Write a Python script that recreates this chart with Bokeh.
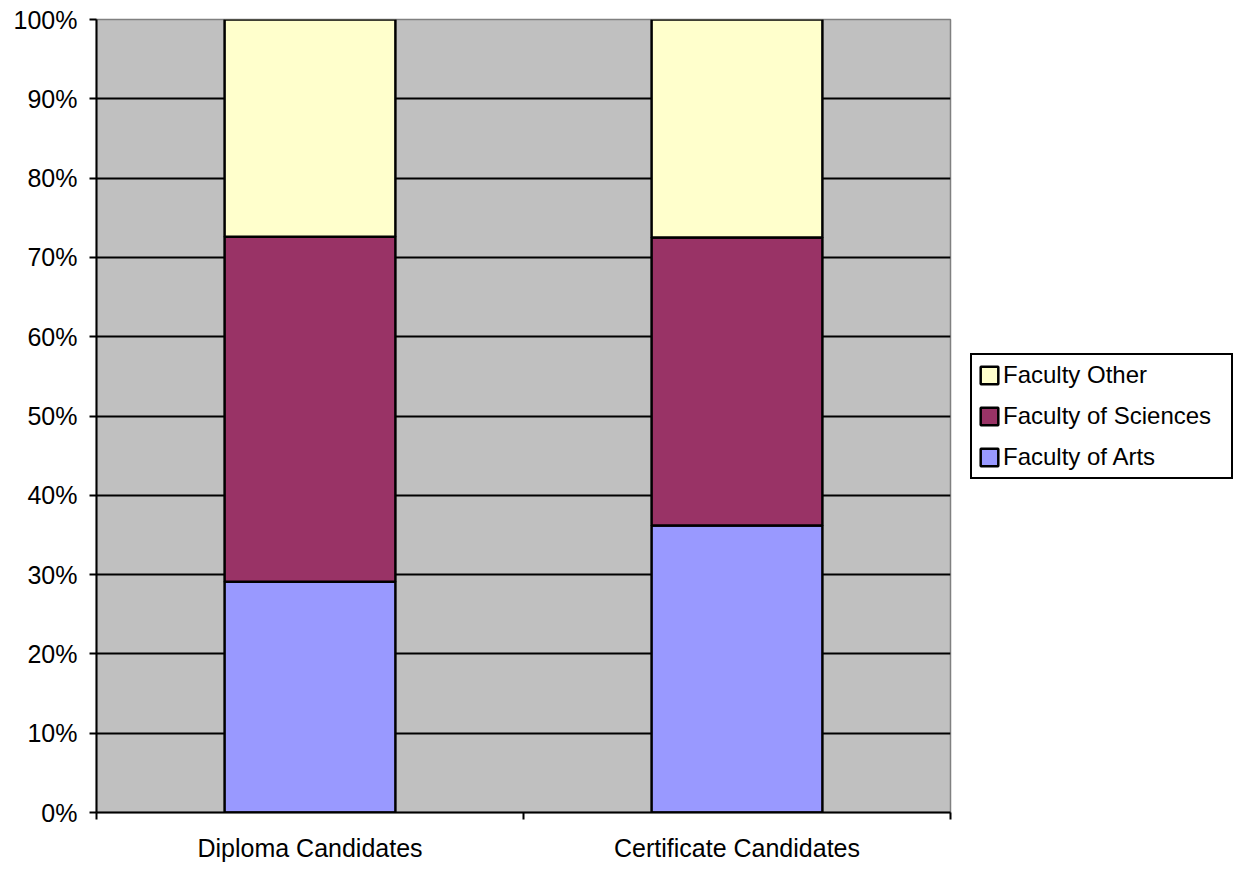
from bokeh.plotting import figure
from bokeh.models import (ColumnDataSource, Legend, LegendItem, FixedTicker,
                          NumeralTickFormatter, Range1d)
from bokeh.embed import file_html
from bokeh.resources import INLINE

categories = ["Diploma Candidates", "Certificate Candidates"]
faculty_of_arts = [0.291, 0.362]
faculty_of_sciences = [0.435, 0.363]
faculty_other = [0.274, 0.275]
series_names = ["Faculty of Arts", "Faculty of Sciences", "Faculty Other"]
series_colors = ["#9999FF", "#993366", "#FFFFCC"]
y_ticks = [i / 10 for i in range(11)]

FONT = "Liberation Sans"

x_pos = [i + 0.5 for i in range(len(categories))]
source = ColumnDataSource(dict(
    x=x_pos,
    arts=faculty_of_arts,
    sciences=faculty_of_sciences,
    other=faculty_other,
))

p = figure(frame_width=854, frame_height=793, output_backend="svg", toolbar_location=None,
           x_range=Range1d(0, len(categories)), y_range=Range1d(0, 1),
           min_border_left=96, min_border_right=0, min_border_top=19,
           min_border_bottom=57)

p.background_fill_color = "#C0C0C0"
p.border_fill_color = "white"
p.outline_line_color = "#808080"
p.outline_line_width = 1.5

renderers = p.vbar_stack(["arts", "sciences", "other"], x="x", width=0.4,
                         color=series_colors, line_color="black", line_width=2.5,
                         source=source)

# grid
p.xgrid.grid_line_color = None
p.ygrid.grid_line_color = "black"
p.ygrid.grid_line_width = 2
p.ygrid.ticker = FixedTicker(ticks=y_ticks)

# y axis
p.yaxis.ticker = FixedTicker(ticks=y_ticks)
p.yaxis.formatter = NumeralTickFormatter(format="0%")
p.yaxis.axis_line_color = "black"
p.yaxis.axis_line_width = 2
p.yaxis.major_tick_line_color = "black"
p.yaxis.major_tick_line_width = 2
p.yaxis.major_tick_out = 7
p.yaxis.major_tick_in = 0
p.yaxis.minor_tick_line_color = None
p.yaxis.major_label_text_font = FONT
p.yaxis.major_label_text_font_size = "25px"
p.yaxis.major_label_text_color = "black"
p.yaxis.major_label_standoff = 12

# x axis
p.xaxis.ticker = FixedTicker(ticks=x_pos, minor_ticks=list(range(len(categories) + 1)))
p.xaxis.major_label_overrides = {x: c for x, c in zip(x_pos, categories)}
p.xaxis.axis_line_color = "black"
p.xaxis.axis_line_width = 2
p.xaxis.major_tick_line_color = None
p.xaxis.minor_tick_line_color = "black"
p.xaxis.minor_tick_line_width = 2
p.xaxis.minor_tick_out = 7
p.xaxis.minor_tick_in = 0
p.xaxis.major_label_text_font = FONT
p.xaxis.major_label_text_font_size = "25px"
p.xaxis.major_label_text_color = "black"
p.xaxis.major_label_standoff = 14

items = [LegendItem(label=series_names[i], renderers=[renderers[i]]) for i in (2, 1, 0)]
legend = Legend(items=items, location="center_left", orientation="vertical")
legend.label_text_font = FONT
legend.label_text_font_size = "24px"
legend.label_text_color = "black"
legend.glyph_width = 22
legend.glyph_height = 22
legend.label_height = 27
legend.label_standoff = 3
legend.spacing = 13
legend.padding = 6
legend.margin = 20
legend.border_line_color = "black"
legend.border_line_alpha = 1
legend.border_line_width = 2
legend.background_fill_color = "white"
legend.background_fill_alpha = 1
legend.label_width = 222
p.add_layout(legend, "right")

open("out.html", "w").write(file_html(p, INLINE))
